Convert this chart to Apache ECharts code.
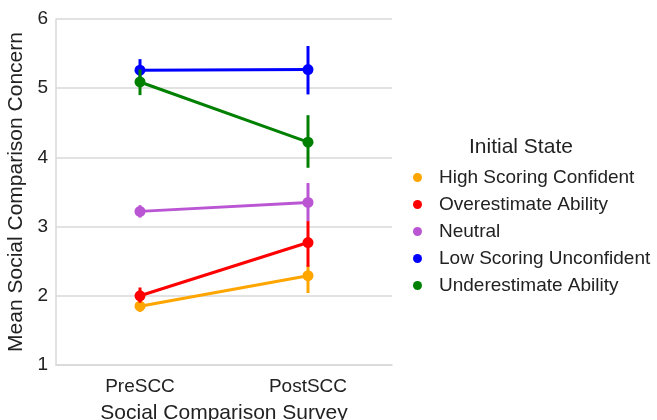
<!DOCTYPE html>
<html>
<head>
<meta charset="utf-8">
<script src="https://cdn.jsdelivr.net/npm/echarts@6/dist/echarts.min.js"></script>
<style>html,body{margin:0;padding:0;background:#fff}#c{width:657px;height:420px}</style>
</head>
<body>
<div id="c"></div>
<script>
var categories = ['PreSCC', 'PostSCC'];
var groups = ['High Scoring Confident', 'Overestimate Ability', 'Neutral', 'Low Scoring Unconfident', 'Underestimate Ability'];
var colors = ['#FFA500', '#FF0000', '#BA55D3', '#0000FF', '#008000'];
var means = [
  [1.85, 2.29],
  [2.00, 2.77],
  [3.22, 3.35],
  [5.26, 5.27],
  [5.09, 4.22]
];
var lowers = [
  [1.77, 2.04],
  [1.90, 2.42],
  [3.13, 3.08],
  [5.10, 4.91],
  [4.90, 3.85]
];
var uppers = [
  [1.93, 2.44],
  [2.12, 3.08],
  [3.31, 3.63],
  [5.42, 5.61],
  [5.27, 4.61]
];
var yTicks = [1, 2, 3, 4, 5, 6];

var FONT = 'Liberation Sans, Arial, sans-serif';
var series = [];
groups.forEach(function (g, i) {
  series.push({
    name: g, type: 'custom',
    data: categories.map(function (c, j) { return [j, lowers[i][j], uppers[i][j]]; }),
    renderItem: function (params, api) {
      var p1 = api.coord([api.value(0), api.value(1)]);
      var p2 = api.coord([api.value(0), api.value(2)]);
      return { type: 'line', shape: { x1: p1[0], y1: p1[1], x2: p2[0], y2: p2[1] },
        style: { stroke: colors[i], lineWidth: 3 } };
    },
    z: 2 + i * 2, silent: true
  });
  series.push({
    name: g, type: 'line', data: means[i],
    symbol: 'circle', symbolSize: 11, showSymbol: true,
    lineStyle: { color: colors[i], width: 3 },
    itemStyle: { color: colors[i] },
    z: 3 + i * 2, animation: false
  });
});

var chart = echarts.init(document.getElementById('c'), null, { renderer: 'canvas' });
chart.setOption({
  animation: false,
  color: colors,
  textStyle: { fontFamily: FONT },
  title: {
    text: 'Initial State', left: 464, top: 132,
    textStyle: { fontFamily: FONT, fontSize: 21, fontWeight: 'normal', color: '#222' }
  },
  legend: {
    data: groups, orient: 'vertical', left: 408, top: 163,
    icon: 'circle', itemWidth: 9, itemHeight: 9, itemGap: 8,
    textStyle: { fontFamily: FONT, fontSize: 19, color: '#222', padding: [0, 0, 0, 12] }
  },
  grid: { left: 56, right: 265, top: 19, bottom: 55, containLabel: false, outerBoundsMode: 'none' },
  xAxis: {
    type: 'category', data: categories, boundaryGap: true,
    name: 'Social Comparison Survey', nameLocation: 'middle', nameGap: 38,
    nameTextStyle: { fontFamily: FONT, fontSize: 21, color: '#222' },
    axisLine: { show: true, lineStyle: { color: '#d9d9d9', width: 1.5 } },
    axisTick: { show: false },
    axisLabel: { fontFamily: FONT, fontSize: 19, color: '#222', margin: 12 },
    splitLine: { show: false }
  },
  yAxis: {
    type: 'value', min: 1, max: 6, interval: 1,
    name: 'Mean Social Comparison Concern', nameLocation: 'middle', nameGap: 25,
    nameTextStyle: { fontFamily: FONT, fontSize: 21, color: '#222' },
    axisLine: { show: true, lineStyle: { color: '#d9d9d9', width: 1.5 } },
    axisTick: { show: false },
    axisLabel: { fontFamily: FONT, fontSize: 19, color: '#222', margin: 8,
      formatter: function (v) { return yTicks.indexOf(v) >= 0 ? String(v) : ''; } },
    splitLine: { show: true, lineStyle: { color: '#d9d9d9', width: 1.5 } }
  },
  series: series
});
</script>
</body>
</html>
